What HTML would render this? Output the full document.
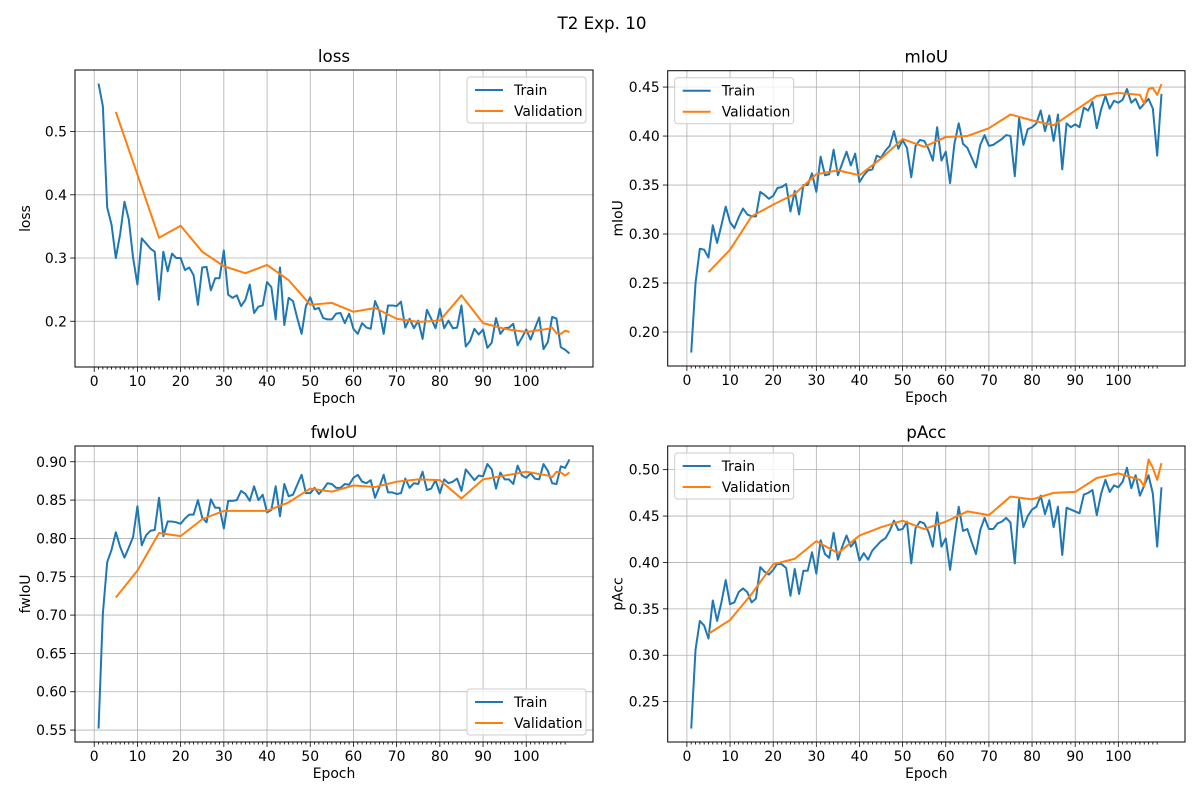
<!DOCTYPE html>
<html><head><meta charset="utf-8"><style>
body{margin:0;background:#fff;}
svg text{font-family:"DejaVu Sans","Liberation Sans",sans-serif;fill:#000;}
</style></head><body>
<svg id="fig" width="1200" height="800" viewBox="0 0 1200 800" xmlns="http://www.w3.org/2000/svg">
<rect width="1200" height="800" fill="#fff"/>
<text x="602" y="29" font-size="16.7" text-anchor="middle">T2 Exp. 10</text>
</svg>
<script>
const epochs = Array.from({length:110},(_,i)=>i+1);
const valEpochs = [5,10,15,20,25,30,35,40,45,50,55,60,65,70,75,80,85,90,95,100,105,106,107,108,109,110];
const xTickLabels = [0,10,20,30,40,50,60,70,80,90,100];

const lossTrain = [.576,.540,.380,.353,.300,.338,.389,.361,.300,.258,.331,.323,.315,.310,.234,.310,.279,.307,.300,.300,
.281,.285,.273,.226,.285,.286,.249,.268,.268,.312,.242,.237,.241,.224,.234,.258,.213,.223,.225,.262,
.254,.203,.285,.194,.237,.232,.205,.180,.224,.238,.219,.221,.205,.203,.203,.212,.213,.197,.212,.188,
.180,.197,.190,.188,.232,.216,.180,.225,.225,.224,.231,.190,.204,.189,.201,.172,.218,.204,.189,.220,
.189,.201,.189,.190,.225,.160,.169,.188,.179,.187,.158,.166,.205,.180,.189,.190,.196,.162,.174,.187,
.171,.189,.206,.156,.167,.207,.204,.159,.155,.149];
const lossVal = [.531,.432,.332,.351,.310,.287,.276,.289,.265,.226,.229,.215,.221,.204,.199,.201,.241,.197,.188,.183,.188,.190,.181,.180,.185,.183];

const miouTrain = [.179,.250,.285,.284,.276,.309,.291,.309,.328,.312,.306,.317,.326,.320,.318,.318,.343,.340,.336,.339,
.347,.348,.351,.323,.344,.320,.350,.350,.362,.343,.379,.360,.361,.386,.360,.372,.384,.370,.382,.353,
.360,.365,.366,.380,.378,.385,.390,.405,.387,.396,.388,.358,.390,.396,.395,.387,.375,.409,.375,.384,
.352,.392,.413,.392,.388,.378,.368,.391,.401,.390,.391,.394,.397,.401,.400,.359,.418,.391,.407,.409,
.413,.426,.405,.421,.395,.422,.366,.413,.409,.412,.409,.429,.426,.435,.408,.427,.441,.428,.436,.434,
.437,.448,.434,.438,.428,.433,.438,.428,.380,.443];
const miouVal = [.261,.284,.318,.330,.341,.361,.365,.360,.377,.397,.389,.399,.400,.408,.422,.416,.411,.426,.441,.444,.442,.433,.448,.449,.442,.453];

const fwTrain = [.552,.702,.769,.785,.808,.789,.775,.788,.802,.842,.791,.804,.810,.811,.853,.803,.822,.822,.821,.819,
.826,.831,.831,.850,.827,.821,.851,.840,.840,.813,.849,.849,.850,.862,.858,.849,.868,.850,.857,.834,
.837,.868,.829,.871,.855,.857,.870,.883,.859,.859,.866,.858,.864,.872,.871,.866,.866,.871,.870,.879,
.883,.874,.872,.876,.853,.867,.883,.860,.860,.858,.859,.878,.866,.872,.871,.887,.863,.865,.876,.859,
.877,.872,.874,.878,.862,.890,.883,.876,.882,.881,.897,.890,.865,.886,.877,.877,.871,.895,.882,.879,
.885,.878,.877,.897,.888,.872,.871,.894,.892,.903];
const fwVal = [.723,.758,.807,.803,.825,.836,.836,.836,.847,.865,.861,.869,.867,.874,.877,.876,.852,.877,.882,.887,.882,.880,.887,.886,.882,.886];

const paccTrain = [.221,.306,.337,.332,.318,.359,.337,.357,.381,.355,.357,.368,.372,.368,.357,.361,.395,.390,.387,.392,
.399,.398,.394,.364,.393,.366,.391,.391,.411,.388,.424,.409,.405,.432,.403,.417,.429,.417,.423,.402,
.410,.403,.413,.418,.423,.426,.434,.445,.435,.436,.444,.399,.437,.444,.442,.433,.417,.454,.417,.426,
.392,.427,.460,.434,.436,.422,.409,.435,.448,.436,.436,.442,.444,.448,.443,.399,.468,.438,.450,.457,
.460,.472,.452,.467,.438,.460,.408,.459,.457,.455,.453,.473,.475,.478,.451,.474,.489,.476,.483,.481,
.487,.502,.480,.494,.472,.483,.494,.474,.417,.481];
const paccVal = [.323,.338,.366,.398,.404,.423,.410,.429,.438,.445,.436,.444,.455,.451,.471,.468,.475,.476,.491,.496,.489,.482,.511,.502,.489,.507];

const lossTicks = [0.2,0.3,0.4,0.5];
const miouTicks = [0.20,0.25,0.30,0.35,0.40,0.45];
const fwTicks = [0.55,0.60,0.65,0.70,0.75,0.80,0.85,0.90];
const paccTicks = [0.25,0.30,0.35,0.40,0.45,0.50];

const NS="http://www.w3.org/2000/svg";
const svg=document.getElementById('fig');
function mk(tag,attrs,parent){const e=document.createElementNS(NS,tag);for(const k in attrs)e.setAttribute(k,attrs[k]);(parent||svg).appendChild(e);return e;}

function panel(key,title,L,T,R,B,train,val,ticks,dec,legendPos){
  const g=mk('g',{});
  
  
  const all=train.concat(val);
  let mn=Math.min(...all),mx=Math.max(...all),r=mx-mn;
  const y0=mn-0.05*r,y1=mx+0.05*r;
  const x0=1-0.05*109,x1=110+0.05*109;
  const X=e=>L+(e-x0)/(x1-x0)*(R-L);
  const Y=v=>B-(v-y0)/(y1-y0)*(B-T);
  xTickLabels.forEach(t=>{const l=mk('line',{x1:X(t),x2:X(t),y1:T,y2:B,stroke:'#b0b0b0','stroke-width':0.8},g);
    });
  ticks.forEach(t=>{const l=mk('line',{x1:L,x2:R,y1:Y(t),y2:Y(t),stroke:'#b0b0b0','stroke-width':0.8},g);
    });
  for(let e=1;e<110;e++){ if(e%10===0) continue;
    const l=mk('line',{x1:X(e),x2:X(e),y1:B,y2:B+2.5,stroke:'#000','stroke-width':0.8},g);
    }
  xTickLabels.forEach(t=>{
    const l=mk('line',{x1:X(t),x2:X(t),y1:B,y2:B+4.9,stroke:'#000','stroke-width':0.8},g);
    
    const tx=mk('text',{x:X(t),y:B+19,'font-size':13.9,'text-anchor':'middle'},g);tx.textContent=t;
    });
  ticks.forEach(t=>{
    const l=mk('line',{x1:L-4.9,x2:L,y1:Y(t),y2:Y(t),stroke:'#000','stroke-width':0.8},g);
    
    const tx=mk('text',{x:L-8,y:Y(t)+5,'font-size':13.9,'text-anchor':'end'},g);tx.textContent=t.toFixed(dec);
    });
  const p1=mk('polyline',{points:train.map((v,i)=>X(epochs[i])+','+Y(v)).join(' '),fill:'none',stroke:'#1f77b4','stroke-width':2,'stroke-linejoin':'round'},g);
  
  const p2=mk('polyline',{points:val.map((v,i)=>X(valEpochs[i])+','+Y(v)).join(' '),fill:'none',stroke:'#ff7f0e','stroke-width':2,'stroke-linejoin':'round'},g);
  
  const fr=mk('rect',{x:L,y:T,width:R-L,height:B-T,fill:'none',stroke:'#000','stroke-width':1},g);
  
  const ti=mk('text',{x:(L+R)/2,y:T-8,'font-size':16.7,'text-anchor':'middle'},g);ti.textContent=title;
  
  const xl=mk('text',{x:(L+R)/2,y:B+36,'font-size':13.9,'text-anchor':'middle'},g);xl.textContent='Epoch';
  
  const yx=L-45,yy=(T+B)/2;
  const yl=mk('text',{x:yx,y:yy,'font-size':13.9,'text-anchor':'middle',transform:`rotate(-90 ${yx} ${yy})`},g);yl.textContent=title;
  
  let lx,ly;
  if(legendPos==='ur'){lx=R-126;ly=T+7;} else if(legendPos==='ul'){lx=L+7;ly=T+7;} else {lx=R-126;ly=B-53;}
  const lg=mk('g',{},g);
  
  mk('rect',{x:lx,y:ly,width:119,height:46,rx:3,fill:'#fff','fill-opacity':0.8,stroke:'#ccc','stroke-width':1},lg);
  [['Train','#1f77b4'],['Validation','#ff7f0e']].forEach((s,i)=>{
    const e=mk('g',{},lg);
    
    mk('line',{x1:lx+8,x2:lx+36,y1:ly+13+i*21,y2:ly+13+i*21,stroke:s[1],'stroke-width':2},e);
    const t=mk('text',{x:lx+47,y:ly+18+i*21,'font-size':13.9},e);t.textContent=s[0];
  });
}
panel('loss','loss',75,70,593,367,lossTrain,lossVal,lossTicks,1,'ur');
panel('miou','mIoU',667.7,70.7,1185,366,miouTrain,miouVal,miouTicks,2,'ul');
panel('fwiou','fwIoU',75,446,593,742,fwTrain,fwVal,fwTicks,2,'lr');
panel('pacc','pAcc',667.7,446,1185,742,paccTrain,paccVal,paccTicks,2,'ul');
</script>
</body></html>
